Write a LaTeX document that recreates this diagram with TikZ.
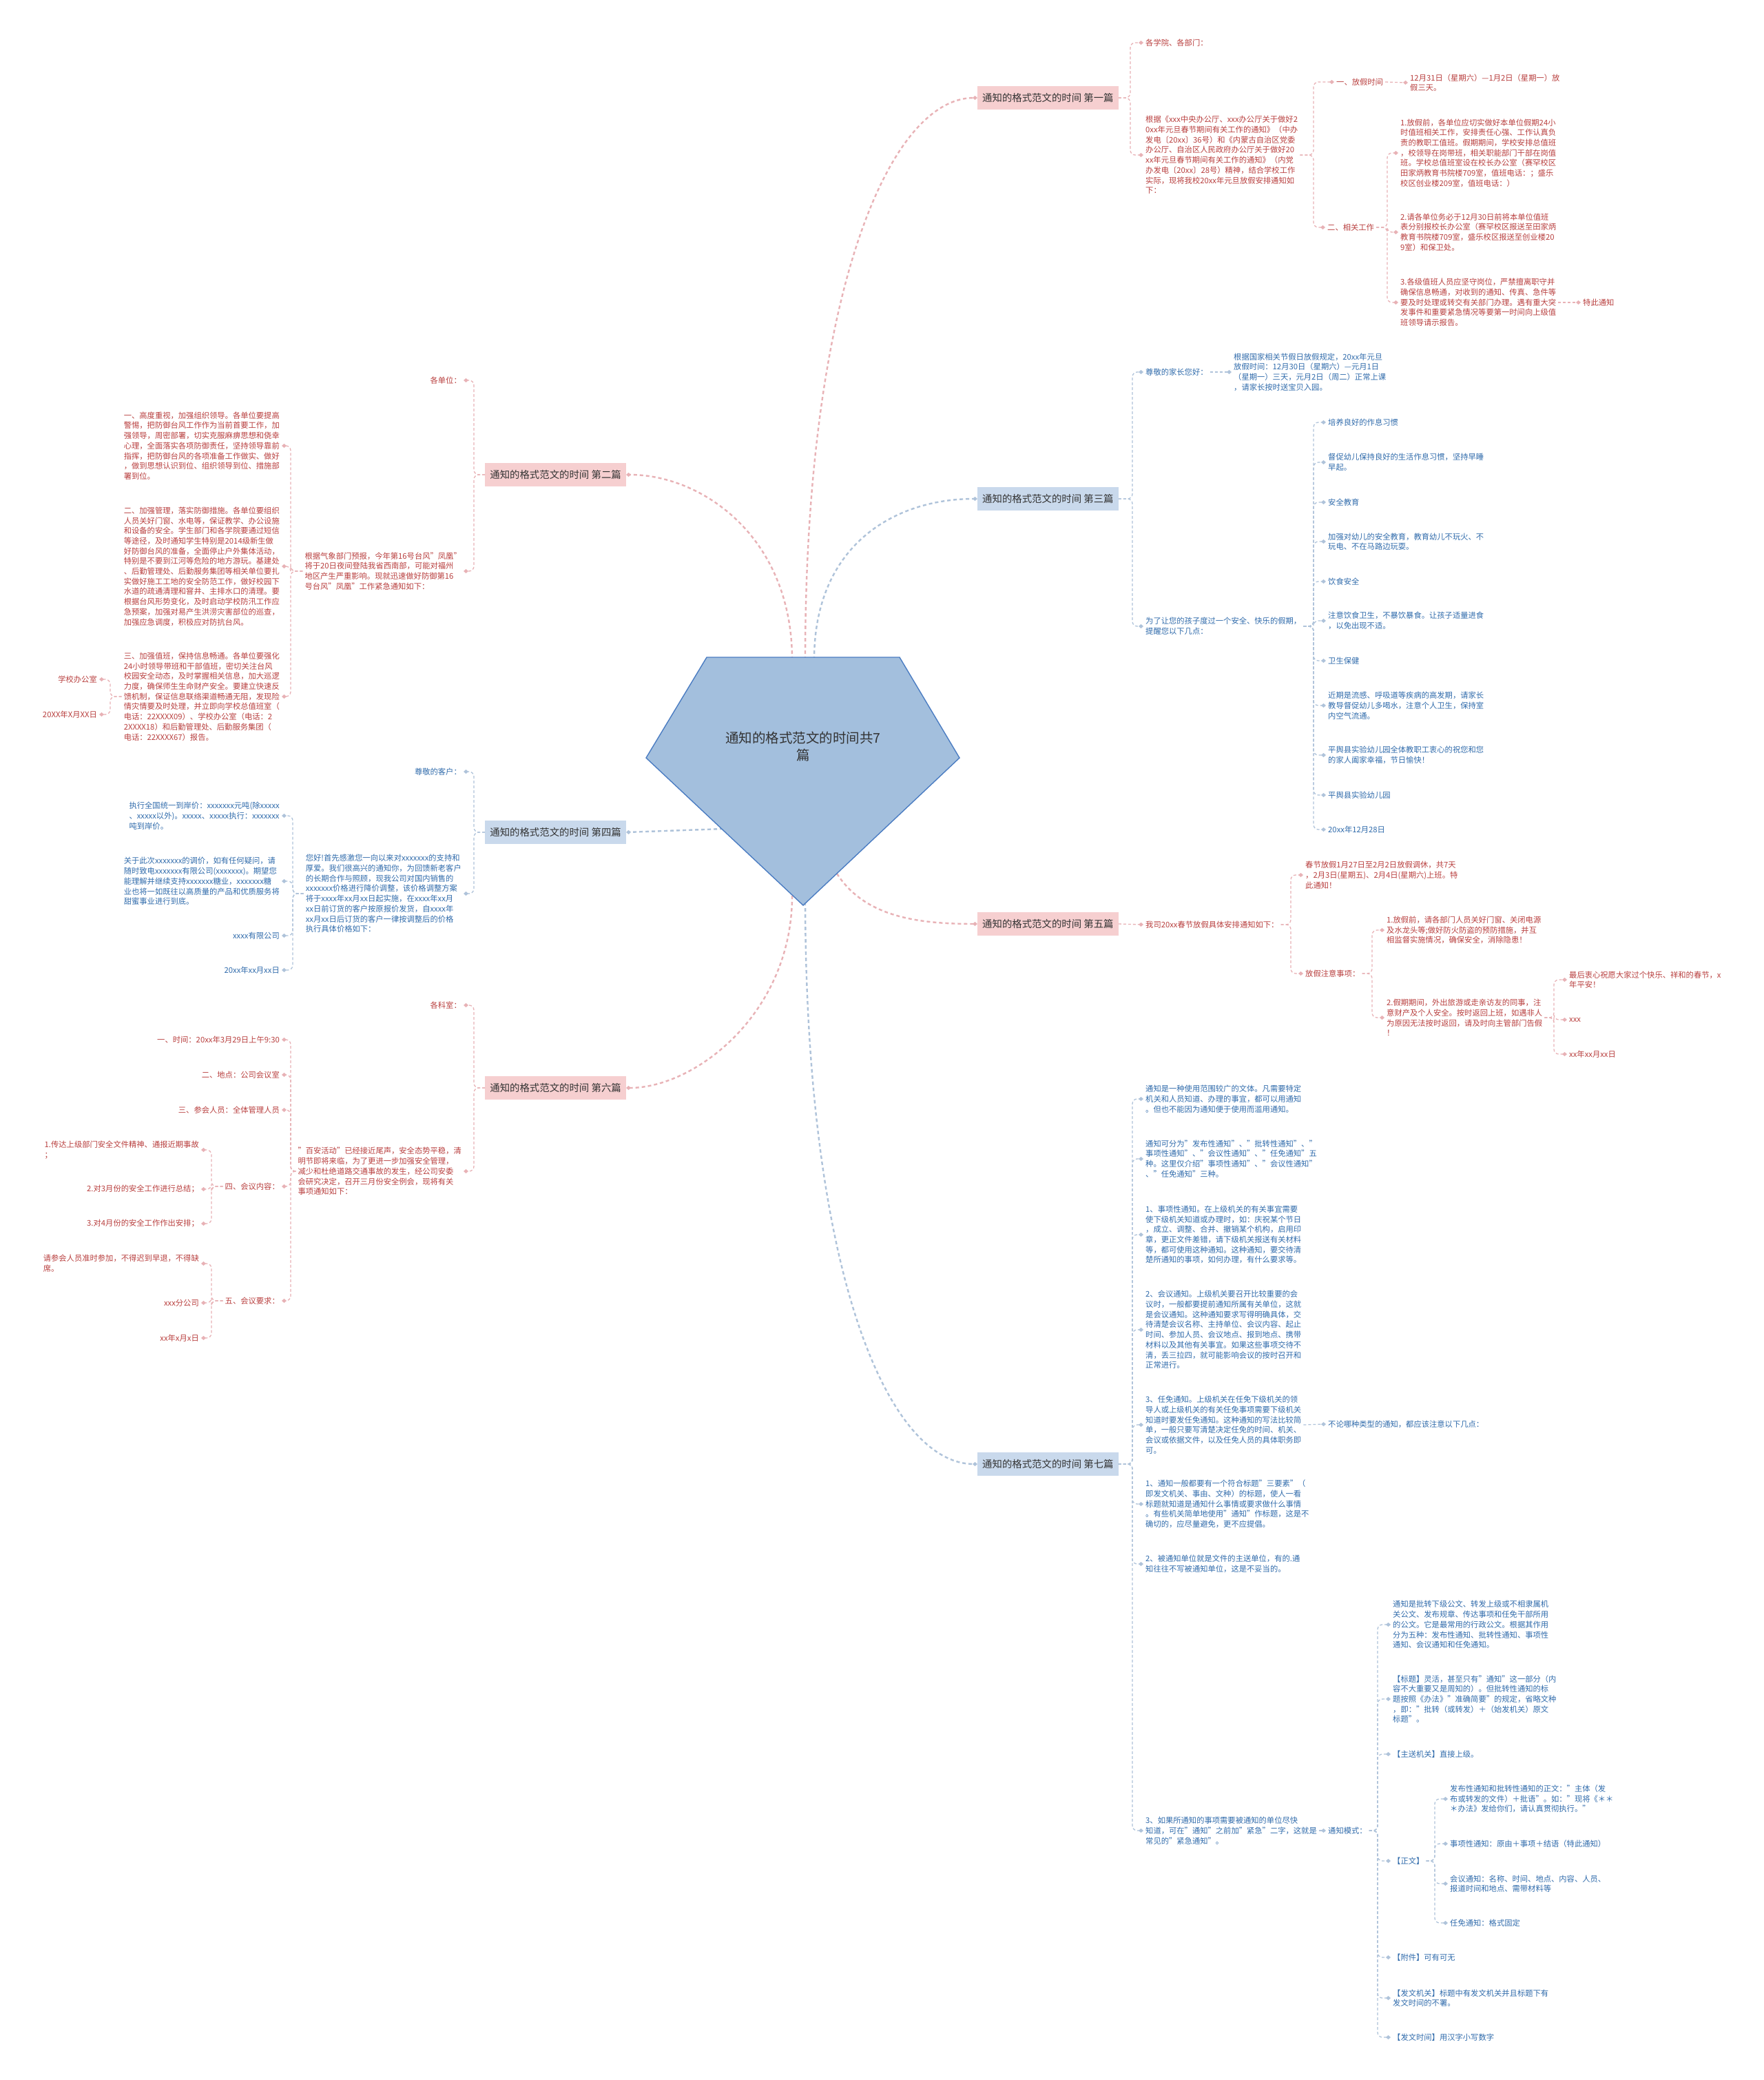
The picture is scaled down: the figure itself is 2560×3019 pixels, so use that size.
\documentclass[tikz,border=0pt]{standalone}
\usepackage{fontspec}
\setmainfont{Noto Sans CJK SC}
\usetikzlibrary{arrows.meta}
\definecolor{topicred}{HTML}{F6CFD0}
\definecolor{topicblue}{HTML}{C9D9EC}
\definecolor{topictext}{HTML}{333333}
\definecolor{leafred}{HTML}{B9403F}
\definecolor{leafblue}{HTML}{316CAC}
\definecolor{linkred}{HTML}{E8B2B6}
\definecolor{linkblue}{HTML}{AFC3DA}
\definecolor{rootfill}{HTML}{A3BFDD}
\definecolor{rootline}{HTML}{4A7CC2}
\newcommand\leaffont{\fontsize{11.3}{14.7}\selectfont}
\newcommand\topicfont{\fontsize{14.4}{18}\selectfont}
\newcommand\rootfont{\fontsize{19.5}{25}\selectfont}
\tikzset{
  topic/.style={font=\topicfont, text=topictext, minimum height=34pt, inner xsep=7pt, inner ysep=0pt},
  topicR/.style={topic, fill=topicred},
  topicB/.style={topic, fill=topicblue},
  leaf/.style={font=\leaffont, align=left, inner sep=3pt},
  leafR/.style={leaf, text=leafred},
  leafB/.style={leaf, text=leafblue},
  link/.style={dash pattern=on 4pt off 3pt, line width=1.3pt, rounded corners=7pt, -{Diamond[length=7pt,width=6pt]}},
  linkR/.style={link, draw=linkred},
  linkB/.style={link, draw=linkblue},
  mainR/.style={linkR, line width=2.4pt, dash pattern=on 5pt off 4pt},
  mainB/.style={linkB, line width=2.4pt, dash pattern=on 5pt off 4pt},
  brk/.style={to path={-- (\tikztostart -| #1,0) |- (\tikztotarget)}}
}
\begin{document}
\begin{tikzpicture}[x=1pt,y=-1pt]
\fill[white] (0,0) rectangle (2560,3019);
\useasboundingbox (0,0) rectangle (2560,3019);

\coordinate (pa) at (1026,954);
\coordinate (pb) at (1306,954);
\coordinate (pc) at (1393,1100);
\coordinate (pd) at (1166,1314);
\coordinate (pe) at (938,1100);
\coordinate (s1) at (1169,958);
\coordinate (s2) at (1150,958);
\coordinate (s3) at (1182,958);
\coordinate (s4) at (1050,1203);
\coordinate (s5) at (1215,1268);
\coordinate (s6) at (1150,1300);
\coordinate (s7) at (1169,1300);

\node[topicR, anchor=west] (t1) at (1419,142) {通知的格式范文的时间 第一篇};
\node[topicR, anchor=east] (t2) at (909,689) {通知的格式范文的时间 第二篇};
\node[topicB, anchor=west] (t3) at (1419,724) {通知的格式范文的时间 第三篇};
\node[topicB, anchor=east] (t4) at (909,1208) {通知的格式范文的时间 第四篇};
\node[topicR, anchor=west] (t5) at (1419,1341) {通知的格式范文的时间 第五篇};
\node[topicR, anchor=east] (t6) at (909,1579) {通知的格式范文的时间 第六篇};
\node[topicB, anchor=west] (t7) at (1419,2125) {通知的格式范文的时间 第七篇};

\draw[mainR] (s1) .. controls (1169,430) and (1290,142) .. (t1.west);
\draw[mainR] (s2) .. controls (1150,780) and (1020,689) .. (t2.east);
\draw[mainB] (s3) .. controls (1182,790) and (1300,724) .. (t3.west);
\draw[mainB] (s4) -- (t4.east);
\draw[mainR] (s5) .. controls (1255,1330) and (1330,1341) .. (t5.west);
\draw[mainR] (s6) .. controls (1150,1470) and (1010,1579) .. (t6.east);
\draw[mainB] (s7) .. controls (1169,1850) and (1290,2125) .. (t7.west);

\node[leafR, anchor=west] (n1a) at (1660,62) {各学院、各部门：};
\node[leafR, anchor=west] (n1b) at (1660,225) {根据《xxx中央办公厅、xxx办公厅关于做好2\\0xx年元旦春节期间有关工作的通知》（中办\\发电〔20xx〕36号）和《内蒙古自治区党委\\办公厅、自治区人民政府办公厅关于做好20\\xx年元旦春节期间有关工作的通知》（内党\\办发电〔20xx〕28号）精神，结合学校工作\\实际，现将我校20xx年元旦放假安排通知如\\下：};
\node[leafR, anchor=west] (n1c) at (1937,119) {一、放假时间};
\node[leafR, anchor=west] (n1d) at (2044,120) {12月31日（星期六）—1月2日（星期一）放\\假三天。};
\node[leafR, anchor=west] (n1e) at (1924,330) {二、相关工作};
\node[leafR, anchor=west] (n1f) at (2030,222) {1.放假前，各单位应切实做好本单位假期24小\\时值班相关工作，安排责任心强、工作认真负\\责的教职工值班。假期期间，学校安排总值班\\，校领导在岗带班，相关职能部门干部在岗值\\班。学校总值班室设在校长办公室（赛罕校区\\田家炳教育书院楼709室，值班电话：；盛乐\\校区创业楼209室，值班电话：）};
\node[leafR, anchor=west] (n1g) at (2030,337) {2.请各单位务必于12月30日前将本单位值班\\表分别报校长办公室（赛罕校区报送至田家炳\\教育书院楼709室，盛乐校区报送至创业楼20\\9室）和保卫处。};
\node[leafR, anchor=west] (n1h) at (2030,439) {3.各级值班人员应坚守岗位，严禁擅离职守并\\确保信息畅通，对收到的通知、传真、急件等\\要及时处理或转交有关部门办理。遇有重大突\\发事件和重要紧急情况等要第一时间向上级值\\班领导请示报告。};
\node[leafR, anchor=west] (n1i) at (2295,439) {特此通知};

\draw[linkR] (t1.east) to[brk=1641] (n1a.west);
\draw[linkR] (t1.east) to[brk=1641] (n1b.west);
\draw[linkR] (n1b.east) to[brk=1907] (n1c.west);
\draw[linkR] (n1b.east) to[brk=1907] (n1e.west);
\draw[linkR] (n1c.east) -- (n1d.west);
\draw[linkR] (n1e.east) to[brk=2014] (n1f.west);
\draw[linkR] (n1e.east) to[brk=2014] (n1g.west);
\draw[linkR] (n1e.east) to[brk=2014] (n1h.west);
\draw[linkR] (n1h.east) -- (n1i.west);

\node[leafB, anchor=west] (n3a) at (1660,540) {尊敬的家长您好：};
\node[leafB, anchor=west] (n3b) at (1788,540) {根据国家相关节假日放假规定，20xx年元旦\\放假时间：12月30日（星期六）—元月1日\\（星期一）三天，元月2日（周二）正常上课\\，请家长按时送宝贝入园。};
\node[leafB, anchor=west] (n3c) at (1660,909) {为了让您的孩子度过一个安全、快乐的假期，\\提醒您以下几点：};
\node[leafB, anchor=west] (n3d) at (1925,613) {培养良好的作息习惯};
\node[leafB, anchor=west] (n3e) at (1925,671) {督促幼儿保持良好的生活作息习惯，坚持早睡\\早起。};
\node[leafB, anchor=west] (n3f) at (1925,729) {安全教育};
\node[leafB, anchor=west] (n3g) at (1925,786) {加强对幼儿的安全教育，教育幼儿不玩火、不\\玩电、不在马路边玩耍。};
\node[leafB, anchor=west] (n3h) at (1925,844) {饮食安全};
\node[leafB, anchor=west] (n3i) at (1925,901) {注意饮食卫生，不暴饮暴食。让孩子适量进食\\，以免出现不适。};
\node[leafB, anchor=west] (n3j) at (1925,959) {卫生保健};
\node[leafB, anchor=west] (n3k) at (1925,1024) {近期是流感、呼吸道等疾病的高发期，请家长\\教导督促幼儿多喝水，注意个人卫生，保持室\\内空气流通。};
\node[leafB, anchor=west] (n3l) at (1925,1096) {平舆县实验幼儿园全体教职工衷心的祝您和您\\的家人阖家幸福，节日愉快！};
\node[leafB, anchor=west] (n3m) at (1925,1154) {平舆县实验幼儿园};
\node[leafB, anchor=west] (n3n) at (1925,1204) {20xx年12月28日};

\draw[linkB] (t3.east) to[brk=1644] (n3a.west);
\draw[linkB] (t3.east) to[brk=1644] (n3c.west);
\draw[linkB] (n3a.east) -- (n3b.west);
\foreach \k in {d,e,f,g,h,i,j,k,l,m,n}
  \draw[linkB] (n3c.east) to[brk=1907] (n3\k.west);

\node[leafR, anchor=west] (n5a) at (1660,1342) {我司20xx春节放假具体安排通知如下：};
\node[leafR, anchor=west] (n5b) at (1892,1270) {春节放假1月27日至2月2日放假调休，共7天\\，2月3日(星期五)、2月4日(星期六)上班。特\\此通知！};
\node[leafR, anchor=west] (n5c) at (1892,1413) {放假注意事项：};
\node[leafR, anchor=west] (n5d) at (2010,1350) {1.放假前，请各部门人员关好门窗、关闭电源\\及水龙头等;做好防火防盗的预防措施，并互\\相监督实施情况，确保安全，消除隐患！};
\node[leafR, anchor=west] (n5e) at (2010,1477) {2.假期期间，外出旅游或走亲访友的同事，注\\意财产及个人安全。按时返回上班，如遇非人\\为原因无法按时返回，请及时向主管部门告假\\！};
\node[leafR, anchor=west] (n5f) at (2275,1422) {最后衷心祝愿大家过个快乐、祥和的春节，x\\年平安！};
\node[leafR, anchor=west] (n5g) at (2275,1480) {xxx};
\node[leafR, anchor=west] (n5h) at (2275,1530) {xx年xx月xx日};

\draw[linkR] (t5.east) -- (n5a.west);
\draw[linkR] (n5a.east) to[brk=1874] (n5b.west);
\draw[linkR] (n5a.east) to[brk=1874] (n5c.west);
\draw[linkR] (n5c.east) to[brk=1992] (n5d.west);
\draw[linkR] (n5c.east) to[brk=1992] (n5e.west);
\draw[linkR] (n5e.east) to[brk=2256] (n5f.west);
\draw[linkR] (n5e.east) to[brk=2256] (n5g.west);
\draw[linkR] (n5e.east) to[brk=2256] (n5h.west);

\node[leafB, anchor=west] (n7a) at (1660,1595) {通知是一种使用范围较广的文体。凡需要特定\\机关和人员知道、办理的事宜，都可以用通知\\。但也不能因为通知便于使用而滥用通知。};
\node[leafB, anchor=west] (n7b) at (1660,1682) {通知可分为"发布性通知"、"批转性通知"、"\\事项性通知"、"会议性通知"、"任免通知"五\\种。这里仅介绍"事项性通知"、"会议性通知"\\、"任免通知"三种。};
\node[leafB, anchor=west] (n7c) at (1660,1792) {1、事项性通知。在上级机关的有关事宜需要\\使下级机关知道或办理时，如：庆祝某个节日\\，成立、调整、合并、撤销某个机构，启用印\\章，更正文件差错，请下级机关报送有关材料\\等，都可使用这种通知。这种通知，要交待清\\楚所通知的事项，如何办理，有什么要求等。};
\node[leafB, anchor=west] (n7d) at (1660,1930) {2、会议通知。上级机关要召开比较重要的会\\议时，一般都要提前通知所属有关单位，这就\\是会议通知。这种通知要求写得明确具体，交\\待清楚会议名称、主持单位、会议内容、起止\\时间、参加人员、会议地点、报到地点、携带\\材料以及其他有关事宜。如果这些事项交待不\\清，丢三拉四，就可能影响会议的按时召开和\\正常进行。};
\node[leafB, anchor=west] (n7e) at (1660,2068) {3、任免通知。上级机关在任免下级机关的领\\导人或上级机关的有关任免事项需要下级机关\\知道时要发任免通知。这种通知的写法比较简\\单，一般只要写清楚决定任免的时间、机关、\\会议或依据文件，以及任免人员的具体职务即\\可。};
\node[leafB, anchor=west] (n7f) at (1925,2067) {不论哪种类型的通知，都应该注意以下几点：};
\node[leafB, anchor=west] (n7g) at (1660,2183) {1、通知一般都要有一个符合标题"三要素"（\\即发文机关、事由、文种）的标题，使人一看\\标题就知道是通知什么事情或要求做什么事情\\。有些机关简单地使用"通知"作标题，这是不\\确切的，应尽量避免，更不应提倡。};
\node[leafB, anchor=west] (n7h) at (1660,2270) {2、被通知单位就是文件的主送单位，有的.通\\知往往不写被通知单位，这是不妥当的。};
\node[leafB, anchor=west] (n7i) at (1660,2657) {3、如果所通知的事项需要被通知的单位尽快\\知道，可在"通知"之前加"紧急"二字，这就是\\常见的"紧急通知"。};
\node[leafB, anchor=west] (n7j) at (1925,2657) {通知模式：};
\node[leafB, anchor=west] (n7k) at (2019,2358) {通知是批转下级公文、转发上级或不相隶属机\\关公文、发布规章、传达事项和任免干部所用\\的公文。它是最常用的行政公文。根据其作用\\分为五种：发布性通知、批转性通知、事项性\\通知、会议通知和任免通知。};
\node[leafB, anchor=west] (n7l) at (2019,2466) {【标题】灵活，甚至只有"通知"这一部分（内\\容不大重要又是周知的）。但批转性通知的标\\题按照《办法》"准确简要"的规定，省略文种\\，即："批转（或转发）＋（始发机关）原文\\标题"。};
\node[leafB, anchor=west] (n7m) at (2019,2546) {【主送机关】直接上级。};
\node[leafB, anchor=west] (n7n) at (2019,2701) {【正文】};
\node[leafB, anchor=west] (n7o) at (2102,2611) {发布性通知和批转性通知的正文："主体（发\\布或转发的文件）＋批语"。如："现将《＊＊\\＊办法》发给你们，请认真贯彻执行。"};
\node[leafB, anchor=west] (n7p) at (2102,2676) {事项性通知：原由＋事项＋结语（特此通知）};
\node[leafB, anchor=west] (n7q) at (2102,2734) {会议通知：名称、时间、地点、内容、人员、\\报道时间和地点、需带材料等};
\node[leafB, anchor=west] (n7r) at (2102,2791) {任免通知：格式固定};
\node[leafB, anchor=west] (n7s) at (2019,2841) {【附件】可有可无};
\node[leafB, anchor=west] (n7t) at (2019,2900) {【发文机关】标题中有发文机关并且标题下有\\发文时间的不署。};
\node[leafB, anchor=west] (n7u) at (2019,2957) {【发文时间】用汉字小写数字};

\foreach \k in {a,b,c,d,e,g,h,i}
  \draw[linkB] (t7.east) to[brk=1644] (n7\k.west);
\draw[linkB] (n7e.east) -- (n7f.west);
\draw[linkB] (n7i.east) -- (n7j.west);
\foreach \k in {k,l,m,n,s,t,u}
  \draw[linkB] (n7j.east) to[brk=2000] (n7\k.west);
\foreach \k in {o,p,q,r}
  \draw[linkB] (n7n.east) to[brk=2083] (n7\k.west);

\node[leafR, anchor=east] (n2a) at (673,552) {各单位：};
\node[leafR, anchor=east] (n2b) at (673,829) {根据气象部门预报，今年第16号台风"凤凰"\\将于20日夜间登陆我省西南部，可能对福州\\地区产生严重影响。现就迅速做好防御第16\\号台风"凤凰"工作紧急通知如下：};
\node[leafR, anchor=east] (n2c) at (409,647) {一、高度重视，加强组织领导。各单位要提高\\警惕，把防御台风工作作为当前首要工作，加\\强领导，周密部署，切实克服麻痹思想和侥幸\\心理，全面落实各项防御责任，坚持领导靠前\\指挥，把防御台风的各项准备工作做实、做好\\，做到思想认识到位、组织领导到位、措施部\\署到位。};
\node[leafR, anchor=east] (n2d) at (409,822) {二、加强管理，落实防御措施。各单位要组织\\人员关好门窗、水电等，保证教学、办公设施\\和设备的安全。学生部门和各学院要通过短信\\等途径，及时通知学生特别是2014级新生做\\好防御台风的准备，全面停止户外集体活动，\\特别是不要到江河等危险的地方游玩。基建处\\、后勤管理处、后勤服务集团等相关单位要扎\\实做好施工工地的安全防范工作，做好校园下\\水道的疏通清理和窨井、主排水口的清理。要\\根据台风形势变化，及时启动学校防汛工作应\\急预案，加强对易产生洪涝灾害部位的巡查，\\加强应急调度，积极应对防抗台风。};
\node[leafR, anchor=east] (n2e) at (409,1011) {三、加强值班，保持信息畅通。各单位要强化\\24小时领导带班和干部值班，密切关注台风\\校园安全动态，及时掌握相关信息，加大巡逻\\力度，确保师生生命财产安全。要建立快速反\\馈机制，保证信息联络渠道畅通无阻，发现险\\情灾情要及时处理，并立即向学校总值班室（\\电话：22XXXX09）、学校办公室（电话：2\\2XXXX18）和后勤管理处、后勤服务集团（\\电话：22XXXX67）报告。};
\node[leafR, anchor=east] (n2f) at (144,986) {学校办公室};
\node[leafR, anchor=east] (n2g) at (144,1037) {20XX年X月XX日};

\draw[linkR] (t2.west) to[brk=688] (n2a.east);
\draw[linkR] (t2.west) to[brk=688] (n2b.east);
\foreach \k in {c,d,e}
  \draw[linkR] (n2b.west) to[brk=422] (n2\k.east);
\draw[linkR] (n2e.west) to[brk=160] (n2f.east);
\draw[linkR] (n2e.west) to[brk=160] (n2g.east);

\node[leafB, anchor=east] (n4a) at (673,1120) {尊敬的客户：};
\node[leafB, anchor=east] (n4b) at (673,1297) {您好!首先感激您一向以来对xxxxxxx的支持和\\厚爱。我们很高兴的通知你，为回馈新老客户\\的长期合作与照顾，现我公司对国内销售的\\xxxxxxx价格进行降价调整，该价格调整方案\\将于xxxx年xx月xx日起实施，在xxxx年xx月\\xx日前订货的客户按原报价发货，自xxxx年\\xx月xx日后订货的客户一律按调整后的价格\\执行具体价格如下：};
\node[leafB, anchor=east] (n4c) at (409,1184) {执行全国统一到岸价：xxxxxxx元吨(除xxxxx\\、xxxxx以外)。xxxxx、xxxxx执行：xxxxxxx\\吨到岸价。};
\node[leafB, anchor=east] (n4d) at (409,1279) {关于此次xxxxxxx的调价，如有任何疑问，请\\随时致电xxxxxxx有限公司(xxxxxxx)。期望您\\能理解并继续支持xxxxxxx糖业，xxxxxxx糖\\业也将一如既往以高质量的产品和优质服务将\\甜蜜事业进行到底。};
\node[leafB, anchor=east] (n4e) at (409,1358) {xxxx有限公司};
\node[leafB, anchor=east] (n4f) at (409,1408) {20xx年xx月xx日};

\draw[linkB] (t4.west) to[brk=688] (n4a.east);
\draw[linkB] (t4.west) to[brk=688] (n4b.east);
\foreach \k in {c,d,e,f}
  \draw[linkB] (n4b.west) to[brk=425] (n4\k.east);

\node[leafR, anchor=east] (n6a) at (673,1459) {各科室：};
\node[leafR, anchor=east] (n6b) at (673,1700) {"百安活动"已经接近尾声，安全态势平稳，清\\明节即将来临，为了更进一步加强安全管理，\\减少和杜绝道路交通事故的发生，经公司安委\\会研究决定，召开三月份安全例会，现将有关\\事项通知如下：};
\node[leafR, anchor=east] (n6c) at (409,1509) {一、时间：20xx年3月29日上午9:30};
\node[leafR, anchor=east] (n6d) at (409,1560) {二、地点：公司会议室};
\node[leafR, anchor=east] (n6e) at (409,1611) {三、参会人员：全体管理人员};
\node[leafR, anchor=east] (n6f) at (409,1722) {四、会议内容：};
\node[leafR, anchor=east] (n6g) at (409,1888) {五、会议要求：};
\node[leafR, anchor=east] (n6h) at (292,1669) {1.传达上级部门安全文件精神、通报近期事故\\；};
\node[leafR, anchor=east] (n6i) at (292,1726) {2.对3月份的安全工作进行总结；};
\node[leafR, anchor=east] (n6j) at (292,1776) {3.对4月份的安全工作作出安排；};
\node[leafR, anchor=east] (n6k) at (292,1834) {请参会人员准时参加，不得迟到早退，不得缺\\席。};
\node[leafR, anchor=east] (n6l) at (292,1891) {xxx分公司};
\node[leafR, anchor=east] (n6m) at (292,1942) {xx年x月x日};

\draw[linkR] (t6.west) to[brk=688] (n6a.east);
\draw[linkR] (t6.west) to[brk=688] (n6b.east);
\foreach \k in {c,d,e,f,g}
  \draw[linkR] (n6b.west) to[brk=422] (n6\k.east);
\foreach \k in {h,i,j}
  \draw[linkR] (n6f.west) to[brk=307] (n6\k.east);
\foreach \k in {k,l,m}
  \draw[linkR] (n6g.west) to[brk=307] (n6\k.east);

\filldraw[fill=rootfill, draw=rootline, line width=1.4pt] (pa) -- (pb) -- (pc) -- (pd) -- (pe) -- cycle;
\node[font=\rootfont, text=topictext, align=center] (root) at (1166,1084) {通知的格式范文的时间共7\\篇};
\end{tikzpicture}
\end{document}
